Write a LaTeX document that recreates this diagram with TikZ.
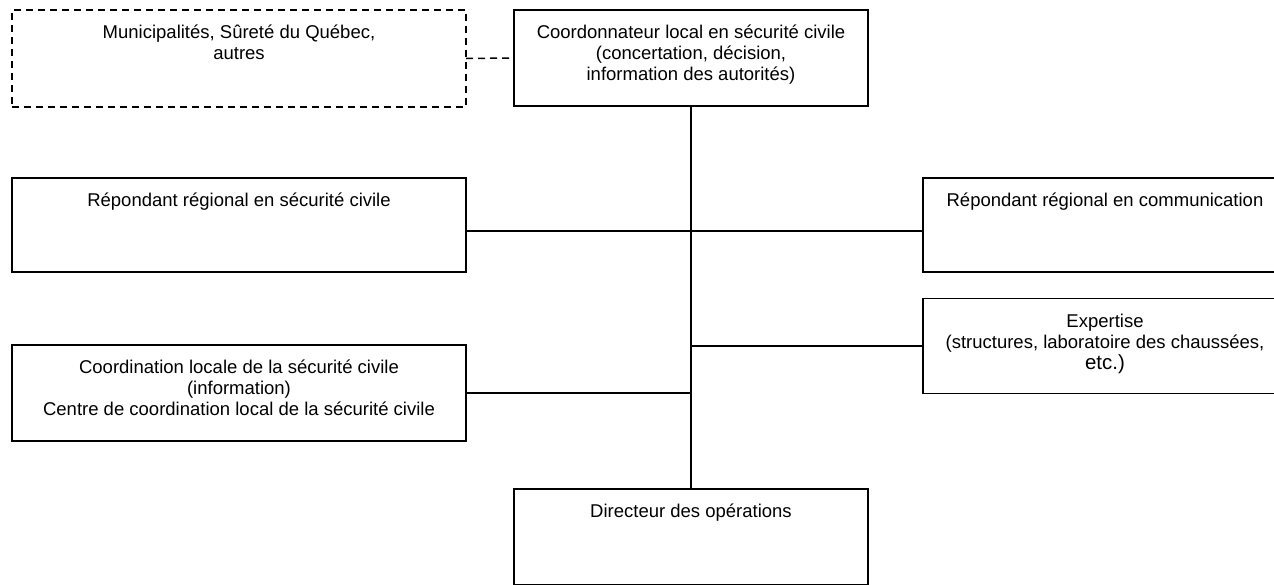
\documentclass[tikz,border=0pt]{standalone}
\usepackage{fontspec}
\setmainfont{Liberation Sans}
\usetikzlibrary{positioning}

\begin{document}
\begin{tikzpicture}[
  x=1pt, y=-1pt,
  unit/.style={draw, line width=1.5pt, outer sep=0pt, inner sep=0pt},
  dashunit/.style={unit, dash pattern=on 7pt off 5pt},
  txt/.style={align=center, inner sep=0pt, font=\fontsize{18.5}{21}\selectfont},
  link/.style={line width=1.5pt},
]
\clip (0,0) rectangle (1274,584);
% boxes
\node[dashunit, minimum width=454pt, minimum height=97pt] (muni) at (239,58.5) {};
\node[unit, minimum width=354pt, minimum height=96pt] (coord) at (691,58) {};
\node[unit, minimum width=454pt, minimum height=94pt] (rrsc) at (239,225) {};
\node[unit, minimum width=364pt, minimum height=94pt] (rrcom) at (1105,225) {};
\node[unit, minimum width=364pt, minimum height=95pt] (expert) at (1105,346) {};
\node[unit, minimum width=454pt, minimum height=96pt] (ccl) at (239,393) {};
\node[unit, minimum width=354pt, minimum height=96pt] (dirop) at (691,537) {};
% texts
\node[txt, below=15pt of muni.north] (muni-t) {Municipalités, Sûreté du Québec,\\autres};
\node[txt, below=15pt of coord.north] (coord-t) {Coordonnateur local en sécurité civile\\(concertation, décision,\\information des autorités)};
\node[txt, below=15pt of rrsc.north] (rrsc-t) {Répondant régional en sécurité civile};
\node[txt, below=15pt of rrcom.north] (rrcom-t) {Répondant régional en communication};
\node[txt, below=15pt of expert.north] (expert-t) {Expertise\\(structures, laboratoire des chaussées,\\{\fontsize{20.5}{22}\selectfont etc.)}};
\node[txt, below=15pt of ccl.north] (ccl-t) {Coordination locale de la sécurité civile\\(information)\\Centre de coordination local de la sécurité civile};
\node[txt, below=15pt of dirop.north] (dirop-t) {Directeur des opérations};
% links
\coordinate (j1) at (691,231);
\draw[link, dash pattern=on 7pt off 5pt] (muni.east) -- (coord.west);
\draw[link] (coord.south) -- (dirop.north);
\draw[link] (rrsc.east |- j1) -- (rrcom.west |- j1);
\draw[link] (coord.south |- expert.west) -- (expert.west);
\draw[link] (ccl.east) -- (coord.south |- ccl.east);
\end{tikzpicture}
\end{document}
